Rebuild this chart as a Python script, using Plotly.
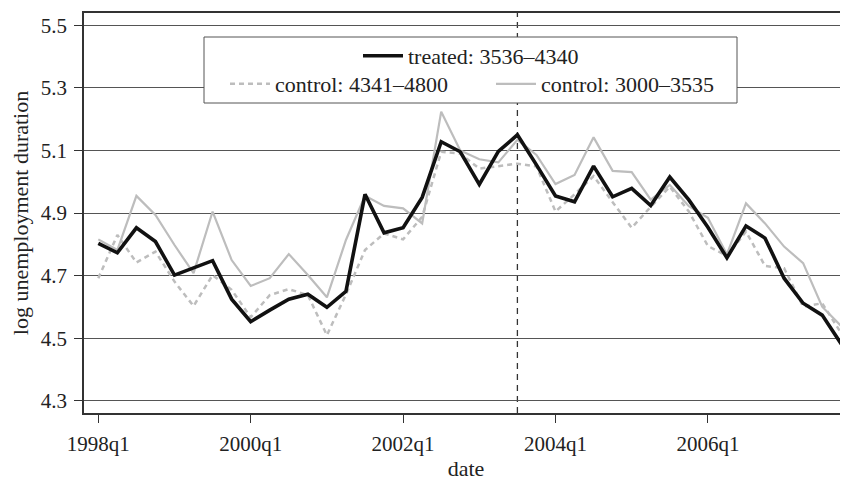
import plotly.graph_objects as go

quarters = [f"{y}q{q}" for y in range(1998, 2008) for q in range(1, 5)]

treated = [4.803, 4.773, 4.853, 4.809, 4.702, 4.726, 4.748, 4.625, 4.553, 4.590,
           4.625, 4.641, 4.599, 4.650, 4.960, 4.837, 4.853, 4.950, 5.128, 5.096,
           4.992, 5.097, 5.150, 5.054, 4.955, 4.936, 5.050, 4.952, 4.979, 4.924,
           5.015, 4.942, 4.855, 4.757, 4.859, 4.820, 4.692, 4.612, 4.574, 4.482]

control_4341_4800 = [4.692, 4.830, 4.742, 4.777, 4.681, 4.603, 4.702, 4.655, 4.567, 4.638,
                     4.657, 4.638, 4.510, 4.640, 4.782, 4.835, 4.816, 4.888, 5.096, 5.090,
                     5.042, 5.050, 5.058, 5.049, 4.905, 4.960, 5.018, 4.935, 4.853, 4.920,
                     4.984, 4.905, 4.795, 4.763, 4.841, 4.731, 4.724, 4.601, 4.612, 4.516]

control_3000_3535 = [4.816, 4.782, 4.955, 4.894, 4.798, 4.708, 4.905, 4.750, 4.667, 4.692,
                     4.769, 4.702, 4.631, 4.814, 4.955, 4.923, 4.915, 4.867, 5.224, 5.100,
                     5.072, 5.062, 5.134, 5.086, 4.993, 5.022, 5.142, 5.035, 5.031, 4.943,
                     4.990, 4.922, 4.885, 4.768, 4.931, 4.867, 4.793, 4.740, 4.601, 4.539]

x_ticks = ["1998q1", "2000q1", "2002q1", "2004q1", "2006q1"]
y_ticks = [4.3, 4.5, 4.7, 4.9, 5.1, 5.3, 5.5]
treatment_start = "2003q3"

FONT = "'Liberation Serif', 'DejaVu Serif', serif"
GRAY = "#bdbdbd"

fig = go.Figure()
fig.add_trace(go.Scatter(x=quarters, y=control_4341_4800, mode="lines",
                         name="control: 4341\u20134800", legend="legend2", showlegend=True,
                         line=dict(color=GRAY, width=2.5, dash="5px,4px")))
fig.add_trace(go.Scatter(x=quarters, y=control_3000_3535, mode="lines",
                         name="control: 3000\u20133535", legend="legend3", showlegend=True,
                         line=dict(color=GRAY, width=2.2)))
fig.add_trace(go.Scatter(x=quarters, y=treated, mode="lines",
                         name="treated: 3536\u20134340", legend="legend", showlegend=True,
                         line=dict(color="#111111", width=3.6)))

# treatment start line
fig.add_shape(type="line", xref="x", yref="paper", x0=treatment_start, x1=treatment_start,
              y0=0, y1=1, line=dict(color="#333333", width=1.3, dash="6px,5px"), layer="below")

# page offset of 8px (body margin) is compensated in margins
OX, OY = 8, 8
L, T = 84 - OX, 13 - OY
W, H = 764, 400
def px(xp):
    return (xp - 84) / W
def py(yp):
    return 1 - (yp - 13) / H

fig.add_shape(type="rect", xref="paper", yref="paper",
              x0=px(204), x1=px(737), y0=py(103), y1=py(37),
              line=dict(color="#555555", width=1), fillcolor="white", layer="above")

leg_common = dict(bgcolor="rgba(0,0,0,0)", borderwidth=0, visible=True, itemwidth=40,
                  font=dict(family=FONT, size=22, color="#222222"),
                  xanchor="left", yanchor="middle", orientation="h")

fig.update_layout(
    width=848 - OX, height=481 - OY,
    margin=dict(l=L, r=0, t=T, b=481 - OY - T - H),
    paper_bgcolor="white", plot_bgcolor="white",
    showlegend=True,
    font=dict(family=FONT, size=21, color="#222222"),
    legend=dict(x=px(358), y=py(56), **leg_common),
    legend2=dict(x=px(225), y=py(84), **leg_common),
    legend3=dict(x=px(491), y=py(84), **leg_common),
    xaxis=dict(type="category", range=[-0.751, 39.355], automargin=False,
               tickmode="array", tickvals=x_ticks, ticktext=x_ticks,
               ticks="outside", ticklen=8, tickcolor="#333333", tickwidth=1,
               showline=True, linecolor="#333333", linewidth=1.5, mirror=True,
               showgrid=False, zeroline=False, ticklabelstandoff=3,
               title=dict(text="date", font=dict(family=FONT, size=22), standoff=8),
               tickfont=dict(family=FONT, size=21)),
    yaxis=dict(range=[4.2613, 5.5393], tickmode="array", tickvals=y_ticks, automargin=False,
               ticktext=[f"{v:.1f}" for v in y_ticks],
               ticks="outside", ticklen=8, tickcolor="#333333", tickwidth=1,
               showline=True, linecolor="#333333", linewidth=1.5,
               showgrid=True, gridcolor="#555555", gridwidth=1, zeroline=False,
               ticklabelstandoff=3,
               title=dict(text="log unemployment duration", font=dict(family=FONT, size=22), standoff=20),
               tickfont=dict(family=FONT, size=21)),
)

fig.write_html("out.html")
